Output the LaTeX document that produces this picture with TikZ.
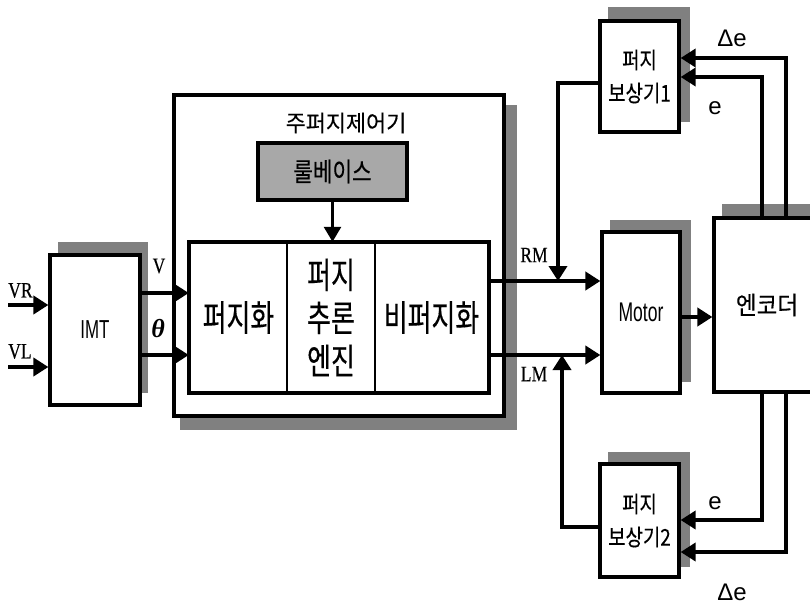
\documentclass[tikz,border=0pt]{standalone}
\usepackage{fontspec}
\newfontfamily\krA[FakeStretch=0.72,FakeBold=0.3]{Noto Sans CJK KR}
\newfontfamily\krB[FakeStretch=0.82,FakeBold=0.3]{Noto Sans CJK KR}
\newfontfamily\krC[FakeStretch=0.9,FakeBold=0.3]{Noto Sans CJK KR}
\newfontfamily\krN[FakeStretch=0.95,FakeBold=0.2]{Noto Sans CJK KR}
\newfontfamily\sfc[FakeStretch=0.65]{Liberation Sans}
\newfontfamily\sfn{Liberation Sans}
\newfontfamily\rmc[FakeStretch=0.8,FakeBold=0.4]{Liberation Serif}
\newfontfamily\rmt{Liberation Serif}
\usetikzlibrary{arrows.meta}
\definecolor{shadowgray}{HTML}{808080}
\definecolor{rulegray}{HTML}{A8A8A8}
\begin{document}
\begin{tikzpicture}[x=1pt,y=-1pt,
  box/.style={draw, line width=3.2pt, fill=white, inner sep=0pt, align=center},
  cell/.style={draw, line width=2.4pt, inner sep=0pt, align=center},
  arr/.style={line width=4.2pt, -{Triangle[length=15pt,width=18pt]}},
  fbarr/.style={line width=3.6pt, -{Triangle[length=15pt,width=18pt]}},
  shadowbox/.style={fill=shadowgray},
  lblserif/.style={font=\rmc\fontsize{22}{24}\selectfont, inner sep=0pt},
  lblsans/.style={font=\sfn\fontsize{24}{26}\selectfont, inner sep=0pt}]
\useasboundingbox (0,0) rectangle (810,604);
\fill[white] (0,0) rectangle (810,604);
% shadows
\fill[shadowbox] (180,105) rectangle (517,430);
\fill[shadowbox] (58,242) rectangle (148,393);
\fill[shadowbox] (610,220) rectangle (691,382);
\fill[shadowbox] (722,204) rectangle (840,380);
\fill[shadowbox] (608,7) rectangle (690,122);
\fill[shadowbox] (608,452) rectangle (690,567);
% boxes
\node[box, minimum width=330pt, minimum height=321pt] (main) at (339,255.5) {};
\node[font=\krN\fontsize{23}{26}\selectfont, inner sep=0pt] (title) at (346,123) {주퍼지제어기};
\node[box, fill=rulegray, minimum width=149pt, minimum height=57pt, font=\krB\fontsize{26}{28}\selectfont] (rb) at (332.5,171.5) {룰베이스};
\node[cell, minimum width=97pt, minimum height=149pt, font=\krA\fontsize{36}{43}\selectfont] (fz) at (238.5,317.5) {퍼지화};
\node[cell, minimum width=88pt, minimum height=149pt, font=\krA\fontsize{36}{43}\selectfont] (inf) at (331,317.5) {퍼지\\추론\\엔진};
\node[cell, minimum width=113pt, minimum height=149pt, font=\krA\fontsize{36}{43}\selectfont] (dfz) at (431.5,317.5) {비퍼지화};
\draw[line width=3.2pt] (fz.north west) rectangle (dfz.south east);
\node[box, minimum width=90pt, minimum height=150pt, font=\sfc\fontsize{26}{28}\selectfont] (imt) at (95,330) {IMT};
\node[box, minimum width=78pt, minimum height=161pt, font=\sfc\fontsize{27}{28}\selectfont] (motor) at (641,312.5) {Motor};
\node[box, minimum width=106pt, minimum height=174pt, font=\krC\fontsize{25}{28}\selectfont] (enc) at (767,305) {엔코더};
\node[box, minimum width=79pt, minimum height=111pt, font=\krB\fontsize{23}{33}\selectfont] (c1) at (639.5,76.5) {퍼지\\보상기1};
\node[box, minimum width=79pt, minimum height=113pt, font=\krB\fontsize{23}{33}\selectfont] (c2) at (639.5,520.5) {퍼지\\보상기2};
% helper coordinates
\coordinate (vr) at (8,305);
\coordinate (vl) at (8,367);
\coordinate (yV) at (0,293);
\coordinate (yT) at (0,355);
\coordinate (yRM) at (0,281);
\coordinate (yLM) at (0,355);
\coordinate (yME) at (0,317);
\coordinate (xDe) at (786,0);
\coordinate (xE) at (762,0);
\coordinate (yD1) at (0,58);
\coordinate (yE1) at (0,77);
\coordinate (yE2) at (0,520);
\coordinate (yD2) at (0,552);
\coordinate (yO1) at (0,83);
\coordinate (yO2) at (0,527);
\coordinate (xO1) at (558,0);
\coordinate (xO2) at (562,0);
% connectors
\draw[arr] (vr) -- (vr -| imt.west);
\draw[arr] (vl) -- (vl -| imt.west);
\draw[arr] (imt.east |- yV) -- (fz.west |- yV);
\draw[arr] (imt.east |- yT) -- (fz.west |- yT);
\draw[line width=2.8pt, -{Triangle[length=15pt,width=17pt]}] (rb.south) -- (rb.south |- inf.north);
\draw[arr] (dfz.east |- yRM) -- (motor.west |- yRM);
\draw[arr] (dfz.east |- yLM) -- (motor.west |- yLM);
\draw[arr] (motor.east |- yME) -- (enc.west |- yME);
\draw[fbarr] (enc.north -| xDe) |- (c1.east |- yD1);
\draw[fbarr] (enc.north -| xE) |- (c1.east |- yE1);
\draw[fbarr] (enc.south -| xE) |- (c2.east |- yE2);
\draw[fbarr] (enc.south -| xDe) |- (c2.east |- yD2);
\draw[fbarr] (c1.west |- yO1) -| (xO1 |- yRM);
\draw[fbarr] (c2.west |- yO2) -| (xO2 |- yLM);
% labels
\node[lblserif, anchor=south west] (lvr) at (8,298) {VR};
\node[lblserif, anchor=south west] (lvl) at (8,359) {VL};
\node[lblserif] (lv) at (159,266) {V};
\node[font=\rmt\bfseries\itshape\fontsize{26}{28}\selectfont, inner sep=0pt] (lt) at (158,329) {θ};
\node[lblserif] (lrm) at (534,255) {RM};
\node[lblserif] (llm) at (534,374) {LM};
\node[lblsans] (lde1) at (732,38) {Δe};
\node[lblsans] (le1) at (715,108) {e};
\node[lblsans] (le2) at (715,503) {e};
\node[lblsans] (lde2) at (732,592) {Δe};
\end{tikzpicture}
\end{document}
